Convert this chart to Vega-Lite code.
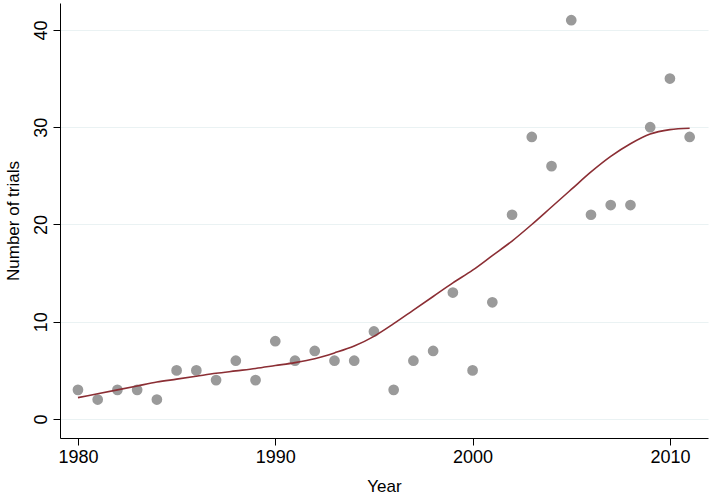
{
  "$schema": "https://vega.github.io/schema/vega-lite/v6.json",
  "width": 648,
  "height": 435,
  "autosize": "none",
  "padding": {"left": 60, "top": 3, "right": 3, "bottom": 59},
  "background": "white",
  "config": {"view": {"stroke": null}, "font": "Liberation Sans"},
  "datasets": {
    "pts": [
      {"year": 1980, "n": 3}, {"year": 1981, "n": 2}, {"year": 1982, "n": 3}, {"year": 1983, "n": 3},
      {"year": 1984, "n": 2}, {"year": 1985, "n": 5}, {"year": 1986, "n": 5}, {"year": 1987, "n": 4},
      {"year": 1988, "n": 6}, {"year": 1989, "n": 4}, {"year": 1990, "n": 8}, {"year": 1991, "n": 6},
      {"year": 1992, "n": 7}, {"year": 1993, "n": 6}, {"year": 1994, "n": 6}, {"year": 1995, "n": 9},
      {"year": 1996, "n": 3}, {"year": 1997, "n": 6}, {"year": 1998, "n": 7}, {"year": 1999, "n": 13},
      {"year": 2000, "n": 5}, {"year": 2001, "n": 12}, {"year": 2002, "n": 21}, {"year": 2003, "n": 29},
      {"year": 2004, "n": 26}, {"year": 2005, "n": 41}, {"year": 2006, "n": 21}, {"year": 2007, "n": 22},
      {"year": 2008, "n": 22}, {"year": 2009, "n": 30}, {"year": 2010, "n": 35}, {"year": 2011, "n": 29}
    ],
    "fit": [
      {"year": 1980, "f": 2.2}, {"year": 1981, "f": 2.6}, {"year": 1982, "f": 3.0}, {"year": 1983, "f": 3.4},
      {"year": 1984, "f": 3.8}, {"year": 1985, "f": 4.1}, {"year": 1986, "f": 4.4}, {"year": 1987, "f": 4.7},
      {"year": 1988, "f": 4.95}, {"year": 1989, "f": 5.2}, {"year": 1990, "f": 5.5}, {"year": 1991, "f": 5.8},
      {"year": 1992, "f": 6.2}, {"year": 1993, "f": 6.8}, {"year": 1994, "f": 7.5}, {"year": 1995, "f": 8.5},
      {"year": 1996, "f": 9.8}, {"year": 1997, "f": 11.2}, {"year": 1998, "f": 12.6}, {"year": 1999, "f": 14.0},
      {"year": 2000, "f": 15.3}, {"year": 2001, "f": 16.8}, {"year": 2002, "f": 18.3}, {"year": 2003, "f": 20.0},
      {"year": 2004, "f": 21.8}, {"year": 2005, "f": 23.6}, {"year": 2006, "f": 25.4}, {"year": 2007, "f": 27.0},
      {"year": 2008, "f": 28.3}, {"year": 2009, "f": 29.3}, {"year": 2010, "f": 29.75}, {"year": 2011, "f": 29.9}
    ]
  },
  "layer": [
    {
      "data": {"name": "pts"},
      "mark": {"type": "point", "filled": true, "opacity": 1, "color": "#9a9a9a", "size": 115},
      "encoding": {
        "x": {
          "field": "year", "type": "quantitative",
          "scale": {"domain": [1979.09, 2011.93], "nice": false, "zero": false},
          "axis": {
            "title": "Year", "values": [1980, 1990, 2000, 2010], "format": "d",
            "grid": false, "domainColor": "#000", "tickColor": "#000", "tickSize": 7,
            "labelFontSize": 18, "labelColor": "#000", "labelPadding": 3,
            "titleFontSize": 17, "titleFontWeight": "normal", "titleColor": "#000", "titlePadding": 12
          }
        },
        "y": {
          "field": "n", "type": "quantitative",
          "scale": {"domain": [-1.95, 42.77], "nice": false, "zero": false},
          "axis": {
            "title": "Number of trials", "values": [0, 10, 20, 30, 40],
            "grid": true, "gridColor": "#eaf2f3", "gridWidth": 1.2,
            "domainColor": "#000", "tickColor": "#000", "tickSize": 7,
            "labelFontSize": 18, "labelColor": "#000", "labelAngle": 270, "labelPadding": 3,
            "titleFontSize": 17, "titleFontWeight": "normal", "titleColor": "#000", "titlePadding": 10
          }
        }
      }
    },
    {
      "data": {"name": "fit"},
      "mark": {"type": "line", "color": "#8b2e34", "strokeWidth": 1.6, "interpolate": "monotone"},
      "encoding": {
        "x": {"field": "year", "type": "quantitative"},
        "y": {"field": "f", "type": "quantitative"}
      }
    }
  ]
}
